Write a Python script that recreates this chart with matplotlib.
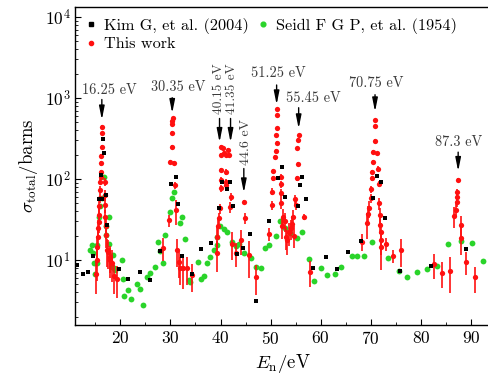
import matplotlib
matplotlib.use('Agg')
import matplotlib.pyplot as plt
from matplotlib.lines import Line2D

plt.rcParams['font.family'] = 'serif'
plt.rcParams['font.serif'] = ['cmr10']
plt.rcParams['mathtext.fontset'] = 'cm'
plt.rcParams['axes.formatter.use_mathtext'] = True

# ---------------- data ----------------
# Kim G, et al. (2004)
kim_E = [11.3, 12.5, 13.5, 14.6, 15.8, 16.1, 16.4, 16.5, 16.8, 17.1, 17.3, 19.7, 21.5, 24.0, 26.0,
         28.0, 30.1, 31.2, 31.5, 32.3, 34.3, 36.1, 38.1, 39.7, 40.3, 41.3, 41.9, 42.5, 43.3,
         44.5, 45.8, 47.1, 49.6, 51.5, 52.3, 52.8, 55.5, 55.9, 56.3, 57.0, 58.5, 61.0, 63.2,
         65.5, 68.1, 70.5, 71.2, 72.0, 72.8, 75.9, 82.0, 89.0]
kim_sig = [8.8, 6.8, 7.2, 11.2, 57, 112, 56, 309, 212, 63, 27, 7.7, 5.8, 7.2, 5.7,
           12.8, 86, 107, 49, 11.2, 6.7, 13.7, 16.4, 44, 93, 75, 93, 46.5, 11.8,
           14, 21, 3.1, 30.6, 102, 140, 60, 47, 84, 105, 57, 8.0, 11, 7.7,
           12.7, 17.4, 58, 110, 93, 33, 7.4, 8.5, 13.7]

# Seidl F G P, et al. (1954)
seidl_E = [14.0, 14.3, 14.5, 14.7, 15.0, 15.3, 15.3, 15.7, 16.0, 16.3, 16.7, 17.2, 17.2, 17.7,
           17.7, 18.3, 18.5, 18.7, 19.0, 20.3, 20.5, 20.8, 21.5, 22.1, 23.3, 23.9, 24.5, 25.3,
           26.0, 27.0, 27.5, 28.0, 28.5, 29.0, 29.9, 30.3, 30.8, 31.9, 32.3, 32.9, 33.7, 33.9,
           35.5, 36.0, 36.7, 37.2, 37.9, 38.7, 39.2, 39.3, 39.8, 40.6, 41.3, 42.2, 43.0, 43.7,
           44.7, 46.0, 47.0, 48.0, 48.8, 49.7, 51.0, 51.9, 52.8, 53.9, 55.2, 56.3, 57.7, 58.7,
           60.0, 61.2, 62.9, 64.1, 66.2, 67.2, 68.7, 70.2, 73.5, 75.7, 77.2, 79.2, 81.3, 83.3,
           85.5, 88.0, 90.3, 92.5]
seidl_sig = [13.5, 15.3, 12.1, 9.1, 6.8, 9.3, 15.3, 34, 46, 58, 105, 26, 20.3, 34,
             16, 8.3, 11.5, 7.9, 7.5, 10, 5.9, 3.6, 4.3, 3.3, 5.0, 4.4, 2.8, 6.2,
             7.0, 8.2, 16.5, 13.0, 9.1, 20.3, 38.7, 58, 70, 29, 34, 18, 5.7, 5.3,
             9.5, 5.8, 6.4, 9.1, 11, 13.5, 15.3, 19.4, 26.5, 24, 22.4, 16.5, 15, 16,
             12.1, 10.5, 8.3, 7.9, 14.2, 15.2, 19.6, 30, 24.6, 21.7, 19, 22.4, 10.4, 5.5,
             7.9, 6.5, 6.7, 8.1, 11.2, 11.3, 11.2, 16.8, 10.5, 7.3, 6.2, 7.1, 7.7, 8.4,
             15.6, 17.2, 16.3, 9.7]

# This work (with uncertainties)
work_E = [15.2, 15.3, 15.4, 15.5, 15.55, 15.65, 15.7, 15.75, 15.85, 15.9, 16.0, 16.05, 16.1,
          16.15, 16.2, 16.25, 16.3, 16.3, 16.9, 16.9, 17.0, 17.0, 17.05, 17.1, 17.3, 17.6,
          17.9, 18.0, 18.3, 18.7, 19.3,
          28.5, 29.7, 30.0, 30.3, 30.35, 30.35, 30.4, 30.45, 30.7, 30.9, 31.2, 31.3, 31.7,
          32.0, 32.5, 33.3, 34.3,
          39.3, 39.3, 39.5, 39.7, 39.8, 40.0, 40.0, 40.0, 40.0, 40.0, 40.5, 40.6, 41.0, 41.0,
          41.0, 41.1, 41.4, 41.6, 41.9, 42.0, 42.3, 43.0, 44.1, 44.7, 44.8, 45.7, 47.0,
          49.7, 50.3, 50.3, 50.5, 50.5, 50.8, 51.0, 51.2, 51.0, 51.2, 51.3, 51.2, 52.0, 52.0,
          52.1, 52.1, 52.3, 52.5, 52.8, 53.0, 53.3, 53.6, 54.0, 54.3, 54.5, 54.6, 54.8, 55.0,
          55.2, 55.5, 55.3, 55.5, 55.7, 56.7, 57.9,
          68.3, 69.3, 69.5, 69.7, 70.0, 70.1, 70.3, 70.3, 70.5, 70.5, 70.9, 70.9, 70.9, 71.2,
          71.5, 71.7, 71.7, 71.9, 71.9, 72.0, 72.1, 72.0, 73.0, 74.5, 76.1,
          82.7, 84.2, 85.9, 86.7, 87.0, 87.2, 87.3, 87.3, 87.5, 88.0, 88.1, 89.1, 90.8]
work_sig = [6.8, 10, 14.6, 19.4, 24.6, 29.7, 36, 46, 58, 73, 93, 107, 123,
            156, 192, 251, 366, 443, 93, 63, 48, 34, 26, 20.3, 13.3, 12.7,
            11, 10, 9.3, 6.3, 5.9,
            14.2, 31, 164, 251, 372, 477, 525, 565, 159, 84, 41, 13.3, 9.5,
            7.9, 7.9, 7.9, 6.5,
            12.1, 19.4, 26, 32.7, 43.5, 77, 97, 129, 198, 251, 240, 210, 198, 123,
            93, 84, 228, 198, 45.5, 60, 16, 12.1, 17.7, 52.5, 32.7, 11.5, 6.2,
            21, 47.7, 70, 102, 126, 188, 223, 281, 349, 423, 614, 724, 107, 86,
            66.5, 51, 26, 34.3, 30, 19.4, 17.7, 22, 24.6, 28, 34, 20, 56, 48,
            102, 153, 240, 303, 349, 34, 7.2,
            16.8, 28.4, 37, 43.5, 58, 75, 102, 123, 164, 217, 297, 451, 535, 207,
            135, 88, 50, 36, 27, 22.4, 17.7, 14.6, 16, 11.2, 13.3,
            8.9, 7.0, 7.4, 35, 42, 52, 60, 70, 97, 27, 18.5, 9.5, 6.1]
work_err = [3.0, 4.5, 5, 6, 7, 8, 8, 8, 8, 8, 7, 8, 8,
            9, 10, 12, 18, 20, 10, 10, 10, 8, 8, 6, 5, 5,
            4, 4, 4, 2.5, 2.5,
            4.5, 5.5, 10, 12, 15, 18, 20, 20, 10, 8, 14, 5, 3.5,
            3.0, 3.5, 3.0, 2.5,
            5, 6, 7, 5, 6, 8, 8, 8, 12, 14, 14, 12, 12, 10,
            8, 8, 14, 12, 7, 7, 6, 4, 6, 3, 5, 5.5, 2.5,
            4, 6, 7, 8, 8, 10, 10, 12, 14, 16, 20, 22, 8, 8,
            8, 8, 8, 8, 8, 6, 6, 7, 7, 7, 8, 6, 8, 7,
            8, 8, 12, 14, 14, 3, 2.5,
            4, 10, 10, 10, 8, 8, 8, 8, 10, 10, 14, 18, 20, 10,
            10, 8, 8, 8, 6, 6, 6, 7, 3, 2, 5,
            3, 2.5, 3.5, 10, 8, 7, 7, 6, 6, 8, 7, 3, 2.2]

# peak annotations
peak_labels = ['16.25 eV', '30.35 eV', '40.15 eV', '41.35 eV', '44.6 eV',
               '51.25 eV', '55.45 eV', '70.75 eV', '87.3 eV']
arrow_E = [16.3, 30.35, 39.8, 42.0, 44.65, 51.2, 55.6, 70.85, 87.45]
arrow_tail = [960, 1010, 560, 560, 135, 1450, 760, 1100, 215]
arrow_tip = [540, 650, 285, 285, 68, 830, 420, 680, 125]
text_E = [17.8, 31.6, 39.6, 42.3, 45.0, 51.6, 58.6, 71.0, 87.5]
text_y = [1040, 1110, 640, 640, 148, 1650, 830, 1250, 236]
text_rot = [0, 0, 90, 90, 90, 0, 0, 0, 0]
text_size = [10.3, 10.3, 9.6, 9.6, 10.0, 10.3, 10.3, 10.3, 10.3]

# ---------------- figure ----------------
fig = plt.figure(figsize=(4.89, 3.81), dpi=100)
ax = fig.add_axes([75.3 / 489, 1 - 325 / 381, (489 - 75.3) / 489 + 0.003, (325 - 7.3) / 381])

red = '#ff1010'
green = '#2ad42a'

ax.errorbar(work_E, work_sig, yerr=work_err, fmt='o', color=red, ms=3.8, mew=0,
            ecolor=red, elinewidth=1.2, capsize=3.5, capthick=1.2, zorder=3)
ax.plot(seidl_E, seidl_sig, 'o', color=green, ms=4.2, mew=0, zorder=2)
ax.plot(kim_E, kim_sig, 's', color='black', ms=3.5, mew=0, zorder=4)

ax.set_yscale('log')
ax.set_xlim(11, 93.9)
ax.set_ylim(1.58, 13200)
ax.set_xticks([20, 30, 40, 50, 60, 70, 80, 90])
ax.set_xticks([15, 25, 35, 45, 55, 65, 75, 85], minor=True)
ax.tick_params(which='both', direction='in', top=False, right=False, labelsize=12.5)
ax.tick_params(which='major', length=4, width=0.8)
ax.tick_params(which='minor', length=2, width=0.6)
for s in ax.spines.values():
    s.set_linewidth(1.0)

ax.set_xlabel(r'$E_{\mathrm{n}}/\mathrm{eV}$', fontsize=13.5, labelpad=4)
ax.set_ylabel(r'$\sigma_{\mathrm{total}}/\mathrm{barns}$', fontsize=13.5, labelpad=3)

for lab, xe, tl, tp, tx, ty, r, fs in zip(peak_labels, arrow_E, arrow_tail, arrow_tip,
                                          text_E, text_y, text_rot, text_size):
    ax.annotate('', xy=(xe, tp), xytext=(xe, tl),
                arrowprops=dict(arrowstyle='-|>,head_length=0.8,head_width=0.16',
                                color='black', lw=1.0, shrinkA=0, shrinkB=0,
                                mutation_scale=10))
    ax.text(tx, ty, lab, rotation=r, ha='center', va='bottom', fontsize=fs,
            color='#3a3a3a')

handles = [Line2D([], [], marker='s', color='black', ls='', ms=3.2),
           Line2D([], [], marker='o', color=red, ls='', ms=3.0),
           Line2D([], [], marker='o', color=green, ls='', ms=3.4)]
labels = ['Kim G, et al. (2004)', 'This work', 'Seidl F G P, et al. (1954)']
ax.legend(handles, labels, ncol=2, loc='upper left', frameon=False, fontsize=11.7,
          handlelength=0.6, handletextpad=0.5, columnspacing=0.6, labelspacing=0.2,
          borderaxespad=0.3, borderpad=0.35)

fig.savefig('out.png', dpi=100)
